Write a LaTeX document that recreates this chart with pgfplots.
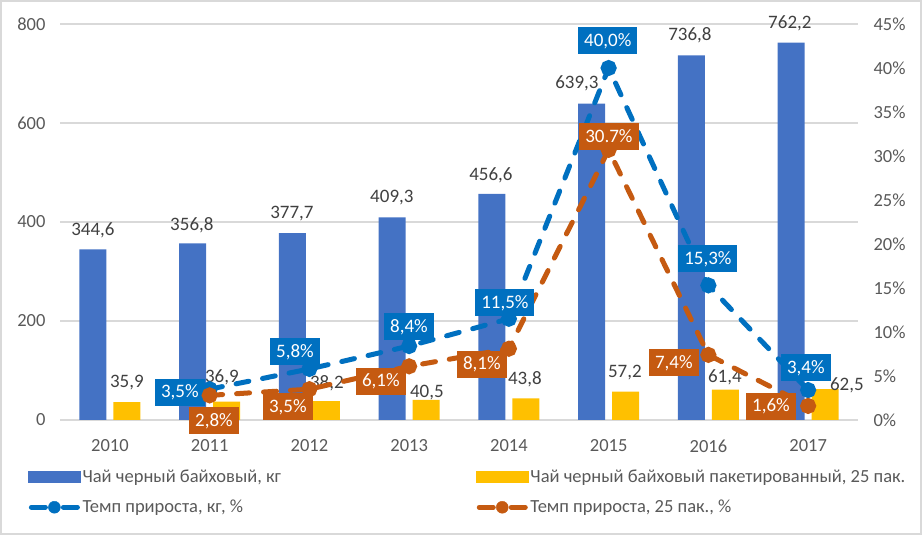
\documentclass[border=0pt]{standalone}
\usepackage{pgfplots}
\pgfplotsset{compat=1.18}
\usepackage{fontspec}
\setmainfont{Carlito}
\definecolor{barblue}{HTML}{4472C4}
\definecolor{baryel}{HTML}{FFC000}
\definecolor{lblue}{HTML}{0070C0}
\definecolor{lorange}{HTML}{C55A11}
\definecolor{txt}{HTML}{595959}
\definecolor{dtxt}{HTML}{404040}
\definecolor{gridc}{HTML}{D9D9D9}
\begin{document}
\begin{tikzpicture}
\useasboundingbox (0pt,0pt) rectangle (922pt,535pt);
\draw[gridc, line width=2pt] (1pt,1pt) rectangle (921pt,534pt);
\begin{axis}[
  at={(60pt,115pt)}, anchor=south west,
  width=798pt, height=396pt, scale only axis,
  xmin=-0.5, xmax=7.5, ymin=0, ymax=800,
  ybar=7pt, bar width=27pt,
  xtick={0,1,2,3,4,5,6,7}, xticklabels={2010,2011,2012,2013,2014,2015,2016,2017},
  ytick={0,200,400,600,800},
  ymajorgrids, grid style={gridc, line width=1.5pt},
  major tick length=0pt,
  axis line style={draw=none},
  tick label style={font=\fontsize{18.5}{20}\selectfont, text=txt},
  xticklabel style={yshift=-16pt},
  yticklabel style={xshift=-11pt},
  clip=false,
  /pgf/number format/assume math mode=true,
]
\addplot[fill=barblue, draw=none] coordinates {(0,344.6) (1,356.8) (2,377.7) (3,409.3) (4,456.6) (5,639.3) (6,736.8) (7,762.2)};
\addplot[fill=baryel, draw=none] coordinates {(0,35.9) (1,36.9) (2,38.2) (3,40.5) (4,43.8) (5,57.2) (6,61.4) (7,62.5)};
\begin{scope}[every node/.style={font=\fontsize{19}{21}\selectfont, text=dtxt, inner sep=0pt}]
\node at (axis cs:-0.170,383.8) {344,6};
\node at (axis cs:0.822,394) {356,8};
\node at (axis cs:1.825,418) {377,7};
\node at (axis cs:2.827,448.5) {409,3};
\node at (axis cs:3.820,495) {456,6};
\node at (axis cs:4.682,681) {639,3};
\node at (axis cs:5.815,778) {736,8};
\node at (axis cs:6.817,802) {762,2};
\node at (axis cs:0.170,74.7) {35,9};
\node at (axis cs:1.123,86.9) {36,9};
\node at (axis cs:2.175,74.7) {38,2};
\node at (axis cs:3.178,54.5) {40,5};
\node at (axis cs:4.160,82.8) {43,8};
\node at (axis cs:5.163,95) {57,2};
\node at (axis cs:6.165,86.9) {61,4};
\node at (axis cs:7.388,70.7) {62,5};
\end{scope}
\end{axis}
\begin{axis}[
  at={(60pt,115pt)}, anchor=south west,
  width=798pt, height=396pt, scale only axis,
  xmin=-0.5, xmax=7.5, ymin=0, ymax=45,
  axis x line=none, axis y line*=right,
  y axis line style={draw=none},
  ytick={0,5,10,15,20,25,30,35,40,45},
  yticklabel={\pgfmathprintnumber{\tick}\%},
  major tick length=0pt,
  tick label style={font=\fontsize{18.5}{20}\selectfont, text=txt},
  yticklabel style={xshift=12pt},
  clip=false,
  /pgf/number format/assume math mode=true,
  legend columns=2,
  legend cell align=left,
  legend style={at={(-0.0401,-0.121)}, anchor=north west, draw=none, fill=none, inner sep=0pt,
    font=\fontsize{18.5}{21}\selectfont, text=txt, row sep=12pt,
    /tikz/column 2/.style={column sep=193pt}},
]
\addlegendimage{legend image code/.code={\fill[barblue] (0pt,-5.5pt) rectangle (52pt,5.5pt);}}
\addlegendentry{Чай черный байховый, кг}
\addlegendimage{legend image code/.code={\fill[baryel] (0pt,-5.5pt) rectangle (52pt,5.5pt);}}
\addlegendentry{Чай черный байховый пакетированный, 25 пак.}
\addlegendimage{legend image code/.code={\draw[lblue,line width=5pt,line cap=round] (3pt,0pt)--(17pt,0pt) (35pt,0pt)--(49pt,0pt); \fill[lblue] (26pt,0pt) circle (6pt);}}
\addlegendentry{Темп прироста, кг, \%}
\addlegendimage{legend image code/.code={\draw[lorange,line width=5pt,line cap=round] (3pt,0pt)--(17pt,0pt) (35pt,0pt)--(49pt,0pt); \fill[lorange] (26pt,0pt) circle (6pt);}}
\addlegendentry{Темп прироста, 25 пак., \%}
\addplot[forget plot, lblue, line width=5pt, dash pattern=on 13pt off 14pt, line cap=round, mark=*, mark size=5.5pt, mark options={solid, fill=lblue, draw=none}] coordinates {(1,3.5) (2,5.8) (3,8.4) (4,11.5) (5,40.0) (6,15.3) (7,3.4)};
\addplot[forget plot, lorange, line width=5pt, dash pattern=on 13pt off 14pt, line cap=round, mark=*, mark size=5.5pt, mark options={solid, fill=lorange, draw=none}] coordinates {(1,2.8) (2,3.5) (3,6.1) (4,8.1) (5,30.7) (6,7.4) (7,1.6)};
\begin{scope}[every node/.style={font=\fontsize{19}{21}\selectfont, text=white, inner xsep=6pt, inner ysep=0pt, minimum height=27pt}]
\node[fill=lblue] at (axis cs:0.702,3.18) {3,5\%};
\node[fill=lblue] at (axis cs:1.855,7.73) {5,8\%};
\node[fill=lblue] at (axis cs:2.998,10.57) {8,4\%};
\node[fill=lblue] at (axis cs:3.960,13.30) {11,5\%};
\node[fill=lblue] at (axis cs:4.992,43.07) {40,0\%};
\node[fill=lblue] at (axis cs:5.995,18.30) {15,3\%};
\node[fill=lblue] at (axis cs:6.977,5.91) {3,4\%};
\node[fill=lorange] at (axis cs:1.043,-0.11) {2,8\%};
\node[fill=lorange] at (axis cs:1.784,1.48) {3,5\%};
\node[fill=lorange] at (axis cs:2.717,4.43) {6,1\%};
\node[fill=lorange] at (axis cs:3.729,6.36) {8,1\%};
\node[fill=lorange] at (axis cs:5.003,32.16) {30,7\%};
\node[fill=lorange] at (axis cs:5.654,6.48) {7,4\%};
\node[fill=lorange] at (axis cs:6.627,1.59) {1,6\%};
\end{scope}
\end{axis}
\end{tikzpicture}
\end{document}
